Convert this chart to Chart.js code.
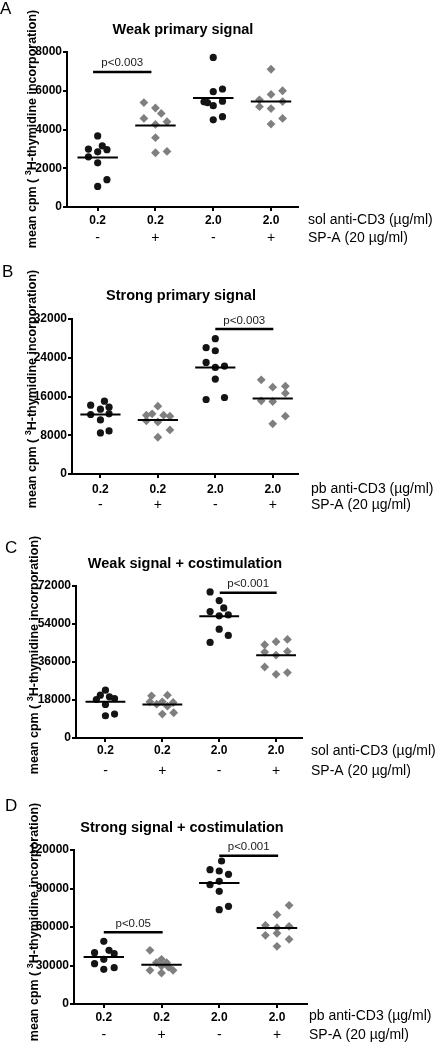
<!DOCTYPE html>
<html>
<head>
<meta charset="utf-8">
<script src="https://cdn.jsdelivr.net/npm/chart.js@4.4.1/dist/chart.umd.min.js"></script>
<style>
html,body{margin:0;padding:0;background:#fff;}
#wrap{position:relative;width:439px;height:1048px;overflow:hidden;}
canvas{position:absolute;left:0;}
</style>
</head>
<body>
<div id="wrap">
<canvas id="cA" width="439" height="260" style="top:0px"></canvas>
<canvas id="cB" width="439" height="265" style="top:260px"></canvas>
<canvas id="cC" width="439" height="260" style="top:525px"></canvas>
<canvas id="cD" width="439" height="263" style="top:785px"></canvas>
</div>
<script>
// categories
var doses = ['0.2', '0.2', '2.0', '2.0'];
var spaRow = ['-', '+', '-', '+'];
var spaLabel = 'SP-A (20 µg/ml)';
var yTitle = ['mean cpm ( ', '3', 'H-thymidine incorporation)'];

// A - weak primary signal (sol anti-CD3)
var a1 = [3670, 2990, 3150, 2960, 2850, 2590, 2280, 1410, 1060];
var a2 = [5390, 5110, 4830, 4570, 4400, 4260, 3580, 2800, 2870];
var a3 = [7720, 5950, 6090, 5430, 5390, 5230, 5460, 4500, 4660];
var a4 = [7110, 5810, 6000, 5530, 5440, 5180, 5080, 4570, 4280];
var meansA = [2560, 4210, 5630, 5440];
var ticksA = [0, 2000, 4000, 6000, 8000];

// B - strong primary signal (pb anti-CD3)
var b1 = [14210, 15040, 13380, 13790, 12280, 12420, 11170, 8480, 8900];
var b2 = [14000, 12140, 12420, 12140, 11930, 10970, 10760, 9100, 7590];
var b3 = [27930, 26070, 25450, 23040, 22000, 22280, 19590, 15380, 15790];
var b4 = [19450, 17930, 18140, 16690, 15100, 14970, 11930, 10350];
var meansB = [12280, 11170, 22000, 15590];
var ticksB = [0, 8000, 16000, 24000, 32000];

// C - weak signal + costimulation
var c1 = [22640, 20280, 18240, 19490, 18710, 15880, 10530, 11320];
var c2 = [19960, 20280, 17140, 17140, 16820, 16030, 15090, 11320, 11950];
var c3 = [69170, 65080, 61620, 59890, 57850, 58320, 51560, 48580, 45270];
var c4 = [44170, 45590, 46690, 40720, 41030, 39300, 33640, 30180, 30970];
var meansC = [17140, 15880, 57690, 39140];
var ticksC = [0, 18000, 36000, 54000, 72000];

// D - strong signal + costimulation
var d1 = [48820, 39990, 41810, 39220, 34800, 31420, 27010, 28310];
var d2 = [41810, 34800, 32200, 32200, 29610, 26230, 24150, 26230, 28830];
var d3 = [111410, 104660, 103620, 101020, 92970, 95570, 87780, 73500, 76090];
var d4 = [76870, 69600, 61290, 60510, 59470, 53500, 55060, 50380, 44930];
var meansD = [36620, 30650, 94270, 59210];
var ticksD = [0, 30000, 60000, 90000, 120000];

// horizontal scatter offsets (category units)
var jitA = [[0, -0.16, 0.08, 0.16, 0, -0.16, 0, 0.16, 0], [-0.2, 0, 0.1, -0.2, 0.2, 0, 0, 0, 0.2],
            [0, 0, 0.16, -0.16, -0.1, 0, 0.16, 0, 0.16], [0, 0, 0.2, -0.2, 0.2, -0.2, 0, 0.2, 0]];
var jitB = [[-0.17, 0.07, 0, 0.15, -0.17, 0.15, 0, 0, 0.15], [0, -0.2, -0.1, 0.1, 0.21, -0.2, 0, 0.21, 0],
            [0, -0.16, 0, -0.16, 0, 0.16, 0, -0.16, 0.16], [-0.2, 0, 0.22, 0.22, -0.2, 0, 0.22, 0]];
var jitC = [[0, -0.09, -0.16, 0.07, 0.16, 0, 0, 0.16], [-0.19, 0.09, -0.22, 0, 0.19, -0.1, 0.09, 0, 0.2],
            [-0.16, 0, 0.08, -0.16, 0, 0.16, 0, 0.16, -0.16], [-0.2, 0, 0.2, -0.2, 0.2, 0, -0.2, 0, 0.2]];
var jitD = [[0, -0.16, 0.09, 0.18, 0, -0.16, 0, 0.18], [-0.2, 0, -0.09, 0.09, 0, -0.2, 0, 0.2, 0.12],
            [0.04, -0.16, 0, 0.16, -0.16, 0, 0, 0, 0.16], [0.21, 0, -0.2, 0.21, 0, -0.2, 0, 0.21, 0]];

// significance bars
var pA = [{text: 'p<0.003', from: 0.92, to: 1.93, y: 6970}];
var pB = [{text: 'p<0.003', from: 3.0, to: 4.01, y: 29930}];
var pC = [{text: 'p<0.001', from: 3.01, to: 4.01, y: 68830}];
var pD = [{text: 'p<0.05', from: 1.0, to: 2.02, y: 55870}, {text: 'p<0.001', from: 3.0, to: 4.02, y: 115560}];

var FONT = '"Liberation Sans", Arial, Helvetica, sans-serif';
Chart.defaults.font.family = FONT;

var panelText = {
    id: 'panelText',
    afterDraw: function(chart, args, o) {
        var ctx = chart.ctx, xs = chart.scales.x, ys = chart.scales.y;
        ctx.save();
        ctx.fillStyle = '#000';
        ctx.textBaseline = 'alphabetic';
        ctx.textAlign = 'left';
        ctx.font = '17px ' + FONT;
        ctx.fillText(o.letter, o.letterX, o.letterY);

        ctx.textAlign = 'center';
        ctx.font = 'bold 14.5px ' + FONT;
        ctx.fillText(o.title, o.titleX, o.titleY);

        ctx.font = '14px ' + FONT;
        spaRow.forEach(function(s, i) {
            ctx.fillText(s, xs.getPixelForValue(i + 1), o.row2Y);
        });
        ctx.textAlign = 'left';
        ctx.fillText(o.row1Label, o.rightX, o.row1Y);
        ctx.fillText(spaLabel, o.rightX, o.row2Y);

        ctx.textAlign = 'center';
        ctx.font = '11.5px ' + FONT;
        ctx.fillStyle = '#1a1a1a';
        o.pvals.forEach(function(p) {
            ctx.fillText(p.text, xs.getPixelForValue((p.from + p.to) / 2), ys.getPixelForValue(p.y) - 5.5);
        });

        // rotated y axis title with superscript
        ctx.fillStyle = '#000';
        ctx.translate(o.yTitleX, o.yTitleY);
        ctx.rotate(-Math.PI / 2);
        ctx.textAlign = 'left';
        var big = 'bold 12.5px ' + FONT, small = 'bold 9px ' + FONT;
        ctx.font = big;
        var w0 = ctx.measureText(yTitle[0]).width, w2 = ctx.measureText(yTitle[2]).width;
        ctx.font = small;
        var w1 = ctx.measureText(yTitle[1]).width;
        var x = -(w0 + w1 + w2) / 2;
        ctx.font = big;
        ctx.fillText(yTitle[0], x, 0);
        ctx.font = small;
        ctx.fillText(yTitle[1], x + w0, -5);
        ctx.font = big;
        ctx.fillText(yTitle[2], x + w0 + w1, 0);
        ctx.restore();
    }
};

function buildDatasets(groups, jit, means, pvals) {
    var ds = [];
    groups.forEach(function(vals, g) {
        var circle = g % 2 === 0;
        ds.push({
            type: 'scatter',
            data: vals.map(function(v, i) { return {x: g + 1 + jit[g][i], y: v}; }),
            pointStyle: circle ? 'circle' : 'rectRot',
            pointRadius: circle ? 3.6 : 4.4,
            backgroundColor: circle ? '#141414' : '#7f7f7f',
            borderWidth: 0,
            clip: false,
            order: 2
        });
        ds.push({
            type: 'line',
            data: [{x: g + 1 - 0.35, y: means[g]}, {x: g + 1 + 0.35, y: means[g]}],
            borderColor: '#000', borderWidth: 2, pointRadius: 0, clip: false, order: 1
        });
    });
    pvals.forEach(function(p) {
        ds.push({
            type: 'line',
            data: [{x: p.from, y: p.y}, {x: p.to, y: p.y}],
            borderColor: '#000', borderWidth: 2.5, pointRadius: 0, clip: false, order: 1
        });
    });
    return ds;
}

function makeChart(id, c) {
    var axisFont = {family: FONT, size: 12, weight: 'bold'};
    new Chart(document.getElementById(id), {
        type: 'scatter',
        data: {datasets: buildDatasets(c.groups, c.jit, c.means, c.pvals)},
        options: {
            responsive: false,
            animation: false,
            devicePixelRatio: 1,
            layout: {padding: {left: 0, top: c.top, right: 439 - c.right, bottom: 0}},
            plugins: {
                legend: {display: false},
                tooltip: {enabled: false},
                panelText: c.text
            },
            scales: {
                x: {
                    type: 'linear', min: c.xmin, max: c.xmax,
                    afterBuildTicks: function(s) { s.ticks = [1, 2, 3, 4].map(function(v) { return {value: v}; }); },
                    afterFit: function(s) { s.height = c.H - c.bottom; },
                    ticks: {
                        callback: function(v) { return doses[Math.round(v) - 1]; },
                        font: axisFont, color: '#000', padding: c.xpad, maxRotation: 0, autoSkip: false
                    },
                    grid: {display: true, drawOnChartArea: false, drawTicks: true, tickLength: 4, color: '#000', lineWidth: 2},
                    border: {display: true, color: '#000', width: 2}
                },
                y: {
                    type: 'linear', min: c.yticks[0], max: c.yticks[c.yticks.length - 1],
                    afterBuildTicks: function(s) { s.ticks = c.yticks.map(function(v) { return {value: v}; }); },
                    afterFit: function(s) { s.width = c.left; },
                    ticks: {
                        callback: function(v) { return String(v); },
                        font: axisFont, color: '#000', padding: 1
                    },
                    grid: {display: true, drawOnChartArea: false, drawTicks: true, tickLength: 4, color: '#000', lineWidth: 2},
                    border: {display: true, color: '#000', width: 2}
                }
            }
        },
        plugins: [panelText]
    });
}

makeChart('cA', {
    groups: [a1, a2, a3, a4], jit: jitA, means: meansA, pvals: pA, yticks: ticksA,
    H: 260, left: 67, top: 52, right: 298, bottom: 207, xmin: 0.469, xmax: 4.467, xpad: 2,
    text: {letter: 'A', letterX: 0, letterY: 13.5, title: 'Weak primary signal', titleX: 183, titleY: 33.5,
           row1Label: 'sol anti-CD3 (µg/ml)', rightX: 308, row1Y: 223.5, row2Y: 242,
           yTitleX: 36, yTitleY: 129, pvals: pA}
});
makeChart('cB', {
    groups: [b1, b2, b3, b4], jit: jitB, means: meansB, pvals: pB, yticks: ticksB,
    H: 265, left: 72, top: 59, right: 298, bottom: 214, xmin: 0.505, xmax: 4.44, xpad: 4,
    text: {letter: 'B', letterX: 2, letterY: 16.7, title: 'Strong primary signal', titleX: 181, titleY: 40,
           row1Label: 'pb anti-CD3 (µg/ml)', rightX: 311, row1Y: 232.7, row2Y: 249.3,
           yTitleX: 36, yTitleY: 129, pvals: pB}
});
makeChart('cC', {
    groups: [c1, c2, c3, c4], jit: jitC, means: meansC, pvals: pC, yticks: ticksC,
    H: 260, left: 76, top: 61, right: 302, bottom: 213, xmin: 0.482, xmax: 4.456, xpad: 1,
    text: {letter: 'C', letterX: 5, letterY: 28.3, title: 'Weak signal + costimulation', titleX: 185, titleY: 42.7,
           row1Label: 'sol anti-CD3 (µg/ml)', rightX: 311, row1Y: 230, row2Y: 250,
           yTitleX: 37.5, yTitleY: 130, pvals: pC}
});
makeChart('cD', {
    groups: [d1, d2, d3, d4], jit: jitD, means: meansD, pvals: pD, yticks: ticksD,
    H: 263, left: 74, top: 65, right: 307, bottom: 219, xmin: 0.484, xmax: 4.52, xpad: 2,
    text: {letter: 'D', letterX: 5, letterY: 26, title: 'Strong signal + costimulation', titleX: 182, titleY: 46.7,
           row1Label: 'pb anti-CD3 (µg/ml)', rightX: 309, row1Y: 235, row2Y: 254.3,
           yTitleX: 38, yTitleY: 137, pvals: pD}
});
</script>
</body>
</html>
